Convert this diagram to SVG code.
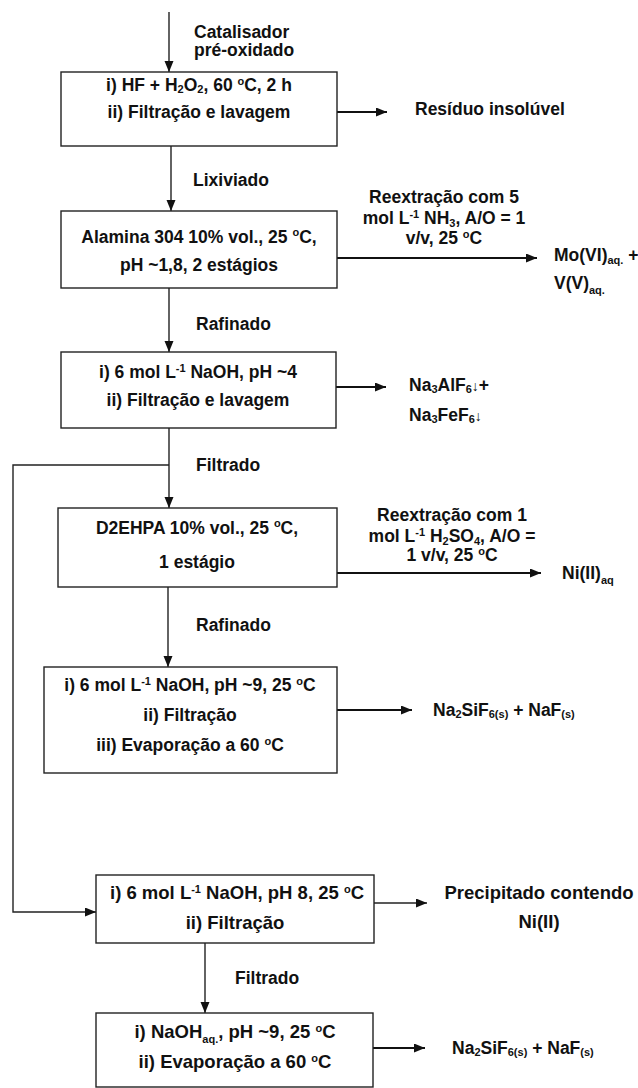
<svg xmlns="http://www.w3.org/2000/svg" width="638" height="1088" viewBox="0 0 638 1088">
<style>
text{font-family:"Liberation Sans",Arial,sans-serif;font-weight:bold;font-size:17.5px;fill:#111}
.c{text-anchor:middle}
.L{font-size:18.5px}
.box{fill:#fff;stroke:#222;stroke-width:1.4}
.ln{fill:none;stroke:#222;stroke-width:1.4}
.th{fill:none;stroke:#111;stroke-width:2.2}
.s{font-size:11px}
.ar{font-size:14px}
</style>
<defs>
<marker id="ah" markerUnits="userSpaceOnUse" markerWidth="12" markerHeight="10" refX="11" refY="4.5" orient="auto">
<path d="M0,0 L11,4.5 L0,9 z" fill="#111"/>
</marker>
</defs>
<rect width="638" height="1088" fill="#fff"/>
<g id="connectors">
<line class="ln" x1="169" y1="12" x2="169" y2="72" marker-end="url(#ah)"/>
<line class="th" x1="337" y1="112" x2="387" y2="112" marker-end="url(#ah)"/>
<line class="ln" x1="171" y1="146" x2="171" y2="211" marker-end="url(#ah)"/>
<line class="th" x1="337" y1="258" x2="537" y2="258" marker-end="url(#ah)"/>
<line class="ln" x1="169" y1="288" x2="169" y2="352" marker-end="url(#ah)"/>
<line class="th" x1="336" y1="387" x2="386" y2="387" marker-end="url(#ah)"/>
<line class="ln" x1="169" y1="428" x2="169" y2="508" marker-end="url(#ah)"/>
<polyline class="ln" points="169,465 13,465 13,912 96,912" marker-end="url(#ah)"/>
<line class="th" x1="337" y1="573" x2="541" y2="573" marker-end="url(#ah)"/>
<line class="ln" x1="168" y1="587" x2="168" y2="667" marker-end="url(#ah)"/>
<line class="th" x1="337" y1="710" x2="412" y2="710" marker-end="url(#ah)"/>
<line class="ln" x1="374" y1="903" x2="427" y2="903" marker-end="url(#ah)"/>
<line class="ln" x1="205" y1="943" x2="205" y2="1013" marker-end="url(#ah)"/>
<line class="th" x1="373" y1="1048" x2="425" y2="1048" marker-end="url(#ah)"/>
</g>
<g id="labels">
<text x="194" y="38">Catalisador</text>
<text x="194" y="56">pré-oxidado</text>
<text x="193" y="186">Lixiviado</text>
<text x="196" y="330">Rafinado</text>
<text x="196" y="471">Filtrado</text>
<text x="196" y="631">Rafinado</text>
<text x="235" y="984">Filtrado</text>
<text class="c" x="444" y="203">Reextração com 5</text>
<text class="c" x="444" y="224">mol L<tspan class="s" dy="-6">-1</tspan><tspan dy="6"> NH</tspan><tspan class="s" dy="3">3</tspan><tspan dy="-3">, A/O = 1</tspan></text>
<text class="c" x="444" y="244">v/v, 25 <tspan class="s" dy="-6">o</tspan><tspan dy="6">C</tspan></text>
<text class="c" x="452" y="521">Reextração com 1</text>
<text class="c" x="452" y="542">mol L<tspan class="s" dy="-6">-1</tspan><tspan dy="6"> H</tspan><tspan class="s" dy="3">2</tspan><tspan dy="-3">SO</tspan><tspan class="s" dy="3">4</tspan><tspan dy="-3">, A/O =</tspan></text>
<text class="c" x="452" y="561">1 v/v, 25 <tspan class="s" dy="-6">o</tspan><tspan dy="6">C</tspan></text>
</g>
<g id="out1"><text x="415" y="115">Resíduo insolúvel</text></g>
<g id="out2">
<text x="554" y="261">Mo(VI)<tspan class="s" dy="3">aq.</tspan><tspan dy="-3"> +</tspan></text>
<text x="554" y="289">V(V)<tspan class="s" dy="5">aq.</tspan></text>
</g>
<g id="out3">
<text x="409" y="391">Na<tspan class="s" dy="2">3</tspan><tspan dy="-2">AlF</tspan><tspan class="s" dy="2">6</tspan><tspan class="ar" dy="-2">↓</tspan>+</text>
<text x="409" y="421">Na<tspan class="s" dy="2">3</tspan><tspan dy="-2">FeF</tspan><tspan class="s" dy="2">6</tspan><tspan class="ar" dy="-2">↓</tspan></text>
</g>
<g id="out4"><text x="562" y="579">Ni(II)<tspan class="s" dy="5">aq</tspan></text></g>
<g id="out5"><text x="433" y="716">Na<tspan class="s" dy="2">2</tspan><tspan dy="-2">SiF</tspan><tspan class="s" dy="2">6(s)</tspan><tspan dy="-2"> + NaF</tspan><tspan class="s" dy="2">(s)</tspan></text></g>
<g id="out6">
<text class="c L" x="539" y="899">Precipitado contendo</text>
<text class="c L" x="539" y="928">Ni(II)</text>
</g>
<g id="out7"><text x="452" y="1054">Na<tspan class="s" dy="2">2</tspan><tspan dy="-2">SiF</tspan><tspan class="s" dy="2">6(s)</tspan><tspan dy="-2"> + NaF</tspan><tspan class="s" dy="2">(s)</tspan></text></g>
<g id="box1">
<rect class="box" x="61" y="72" width="276" height="74"/>
<text class="c" x="199" y="91">i) HF + H<tspan class="s" dy="2">2</tspan><tspan dy="-2">O</tspan><tspan class="s" dy="2">2</tspan><tspan dy="-2">, 60 </tspan><tspan class="s" dy="-6">o</tspan><tspan dy="6">C, 2 h</tspan></text>
<text class="c" x="199" y="118">ii) Filtração e lavagem</text>
</g>
<g id="box2">
<rect class="box" x="61" y="211" width="276" height="77"/>
<text class="c" x="199" y="243">Alamina 304 10% vol., 25 <tspan class="s" dy="-7">o</tspan><tspan dy="7">C,</tspan></text>
<text class="c" x="199" y="271">pH ~1,8, 2 estágios</text>
</g>
<g id="box3">
<rect class="box" x="61" y="352" width="275" height="76"/>
<text class="c" x="198" y="378">i) 6 mol L<tspan class="s" dy="-6">-1</tspan><tspan dy="6"> NaOH, pH ~4</tspan></text>
<text class="c" x="198" y="406">ii) Filtração e lavagem</text>
</g>
<g id="box4">
<rect class="box" x="58" y="508" width="279" height="79"/>
<text class="c" x="197" y="534">D2EHPA 10% vol., 25 <tspan class="s" dy="-7">o</tspan><tspan dy="7">C,</tspan></text>
<text class="c" x="197" y="568">1 estágio</text>
</g>
<g id="box5">
<rect class="box" x="44" y="667" width="293" height="106"/>
<text class="c" x="190" y="691">i) 6 mol L<tspan class="s" dy="-6">-1</tspan><tspan dy="6"> NaOH, pH ~9, 25 </tspan><tspan class="s" dy="-6">o</tspan><tspan dy="6">C</tspan></text>
<text class="c" x="190" y="721">ii) Filtração</text>
<text class="c" x="190" y="751">iii) Evaporação a 60 <tspan class="s" dy="-6">o</tspan><tspan dy="6">C</tspan></text>
</g>
<g id="box6">
<rect class="box" x="96" y="875" width="278" height="68"/>
<text class="c L" x="237" y="899">i) 6 mol L<tspan class="s" dy="-6">-1</tspan><tspan dy="6"> NaOH, pH 8, 25 </tspan><tspan class="s" dy="-6">o</tspan><tspan dy="6">C</tspan></text>
<text class="c L" x="235" y="929">ii) Filtração</text>
</g>
<g id="box7">
<rect class="box" x="96" y="1013" width="277" height="74"/>
<text class="c L" x="235" y="1038">i) NaOH<tspan class="s" dy="5">aq.</tspan><tspan dy="-5">, pH ~9, 25 </tspan><tspan class="s" dy="-6">o</tspan><tspan dy="6">C</tspan></text>
<text class="c L" x="235" y="1068">ii) Evaporação a 60 <tspan class="s" dy="-6">o</tspan><tspan dy="6">C</tspan></text>
</g>
</svg>
